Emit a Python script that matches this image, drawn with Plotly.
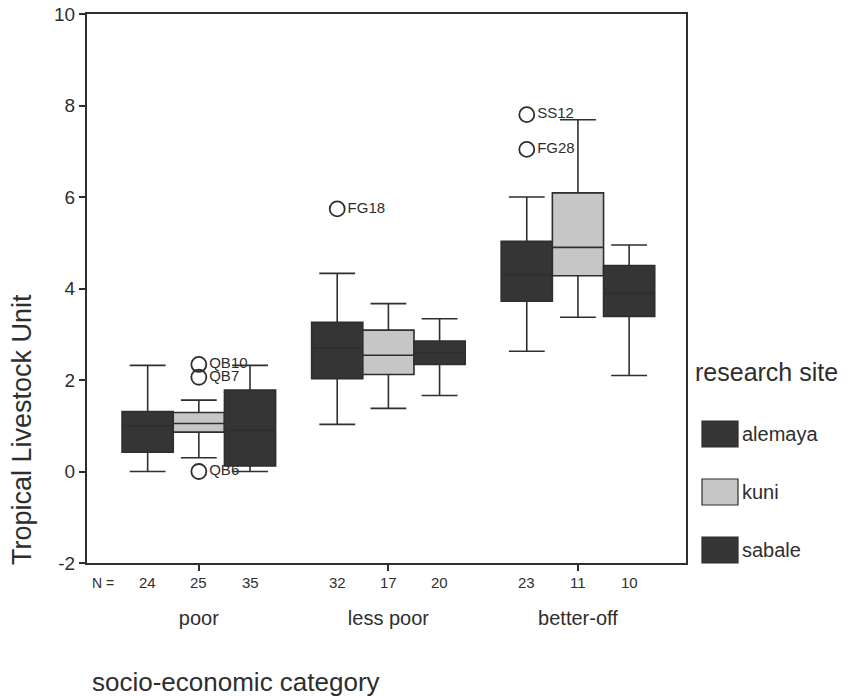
import plotly.graph_objects as go

# ---------------- data ----------------
categories = ["poor", "less poor", "better-off"]
sites = ["alemaya", "kuni", "sabale"]

n_alemaya = [24, 32, 23]
n_kuni = [25, 17, 11]
n_sabale = [35, 20, 10]

lower_alemaya = [0.00, 1.03, 2.63]
q1_alemaya = [0.42, 2.03, 3.72]
median_alemaya = [1.00, 2.70, 4.30]
q3_alemaya = [1.31, 3.26, 5.03]
upper_alemaya = [2.32, 4.33, 6.00]

lower_kuni = [0.30, 1.38, 3.37]
q1_kuni = [0.86, 2.12, 4.28]
median_kuni = [1.05, 2.54, 4.90]
q3_kuni = [1.29, 3.09, 6.09]
upper_kuni = [1.56, 3.67, 7.69]

lower_sabale = [0.00, 1.66, 2.10]
q1_sabale = [0.12, 2.34, 3.39]
median_sabale = [0.90, 2.60, 3.90]
q3_sabale = [1.78, 2.85, 4.50]
upper_sabale = [2.32, 3.34, 4.95]

outlier_category = ["poor", "poor", "poor", "less poor", "better-off", "better-off"]
outlier_site = ["kuni", "kuni", "kuni", "alemaya", "alemaya", "alemaya"]
outlier_value = [2.34, 2.06, 0.00, 5.74, 7.80, 7.04]
outlier_label = ["QB10", "QB7", "QB6", "FG18", "SS12", "FG28"]

y_tick_values = [-2, 0, 2, 4, 6, 8, 10]
y_tick_labels = ["-2", "0", "2", "4", "6", "8", "10"]

# ---------------- styling ----------------
FONT = "Liberation Sans, Arial, Helvetica, sans-serif"
TXT = "#2e2e2e"
LINE = "#2e2e2e"
DARK = "#353535"
LIGHT = "#c6c6c6"
fills = {"alemaya": DARK, "kuni": LIGHT, "sabale": DARK}
BOXW = 0.27

W, H = 850, 697
OFF = 8  # page body margin of the browser
L, R, T, B = 87 - OFF, 686 - OFF, 14 - OFF, 563 - OFF


def px_x(p):
    return (p - OFF - L) / (R - L)


def px_y(p):
    return (B - (p - OFF)) / (B - T)


def pos(cat, site):
    return categories.index(cat) + (sites.index(site) - 1) * BOXW


stats = {
    "alemaya": (lower_alemaya, q1_alemaya, median_alemaya, q3_alemaya, upper_alemaya, n_alemaya),
    "kuni": (lower_kuni, q1_kuni, median_kuni, q3_kuni, upper_kuni, n_kuni),
    "sabale": (lower_sabale, q1_sabale, median_sabale, q3_sabale, upper_sabale, n_sabale),
}

fig = go.Figure()
annotations = []

for site in sites:
    lo, q1, med, q3, up, n = stats[site]
    xs = [pos(c, site) for c in categories]
    fig.add_trace(go.Box(
        x=xs, lowerfence=lo, q1=q1, median=med, q3=q3, upperfence=up,
        name=site, width=BOXW, whiskerwidth=0.7, boxpoints=False,
        fillcolor=fills[site], line=dict(color=LINE, width=1.6),
        showlegend=False, hoverinfo="skip",
    ))
    for x, v in zip(xs, n):
        annotations.append(dict(
            x=x, y=px_y(583), xref="x", yref="paper", yanchor="middle", text=str(v),
            showarrow=False, font=dict(family=FONT, size=15, color=TXT),
        ))

fig.add_trace(go.Scatter(
    x=[pos(c, s) for c, s in zip(outlier_category, outlier_site)],
    y=outlier_value, text=outlier_label, mode="markers+text",
    textposition="middle right",
    marker=dict(symbol="circle-open", size=15, color=LINE, line=dict(width=1.8, color=LINE)),
    textfont=dict(family=FONT, size=15, color=TXT),
    showlegend=False, hoverinfo="skip",
))

# N = label
annotations.append(dict(x=px_x(90), y=px_y(583), xref="paper", yref="paper", yanchor="middle",
                        text="N =", showarrow=False, font=dict(family=FONT, size=14, color=TXT)))
# axis titles
annotations.append(dict(x=px_x(22), y=px_y(430), xref="paper", yref="paper",
                        xanchor="center", yanchor="middle",
                        text="Tropical Livestock Unit", textangle=-90, showarrow=False,
                        font=dict(family=FONT, size=27, color=TXT)))
annotations.append(dict(x=px_x(90), y=px_y(682), xref="paper", yref="paper",
                        xanchor="left", yanchor="middle",
                        text="socio-economic category", showarrow=False,
                        font=dict(family=FONT, size=26, color=TXT)))
# legend
annotations.append(dict(x=px_x(693), y=px_y(372), xref="paper", yref="paper",
                        xanchor="left", yanchor="middle",
                        text="research site", showarrow=False,
                        font=dict(family=FONT, size=25, color=TXT)))
shapes = []
for site, (y0, y1) in zip(sites, [(421, 447), (479, 505), (537, 563)]):
    shapes.append(dict(type="rect", xref="paper", yref="paper",
                       x0=px_x(702), x1=px_x(738), y0=px_y(y1), y1=px_y(y0),
                       fillcolor=fills[site], line=dict(color=LINE, width=1.2)))
    annotations.append(dict(x=px_x(740), y=px_y((y0 + y1) / 2), xref="paper", yref="paper",
                            xanchor="left", yanchor="middle", text=site, showarrow=False,
                            font=dict(family=FONT, size=20, color=TXT)))

fig.update_layout(
    width=W, height=H,
    margin=dict(l=L, r=W - R, t=T, b=H - B, autoexpand=False),
    paper_bgcolor="white", plot_bgcolor="white",
    boxmode="overlay",
    font=dict(family=FONT, color=TXT),
    annotations=annotations, shapes=shapes,
    showlegend=False,
)
fig.update_xaxes(
    range=[-0.59, 2.57], tickvals=list(range(len(categories))), ticktext=categories,
    ticks="outside", ticklen=6, tickwidth=1.5, tickcolor=LINE,
    ticklabelstandoff=30, tickfont=dict(family=FONT, size=20, color=TXT),
    showline=True, linecolor=LINE, linewidth=2, mirror=True,
    showgrid=False, zeroline=False, automargin=False,
)
fig.update_yaxes(
    range=[-2, 10], tickvals=y_tick_values, ticktext=y_tick_labels,
    ticks="outside", ticklen=6, tickwidth=1.5, tickcolor=LINE,
    tickfont=dict(family=FONT, size=19, color=TXT), ticklabeloverflow="allow",
    showline=True, linecolor=LINE, linewidth=2, mirror=True,
    showgrid=False, zeroline=False, automargin=False,
)

fig.write_html("out.html")
